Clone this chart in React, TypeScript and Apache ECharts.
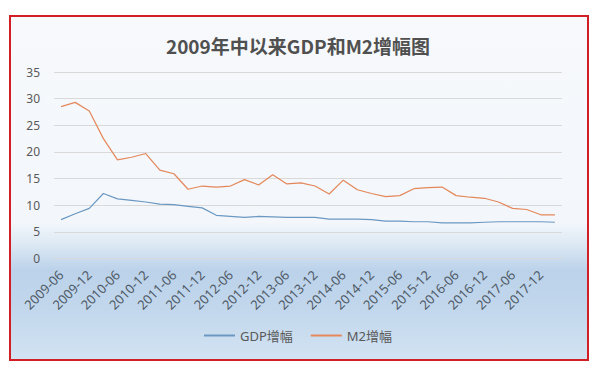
import React, { useEffect, useRef } from "react";
import * as echarts from "echarts";

const categories: string[] = [
  "2009-06", "2009-09", "2009-12",
  "2010-03", "2010-06", "2010-09", "2010-12",
  "2011-03", "2011-06", "2011-09", "2011-12",
  "2012-03", "2012-06", "2012-09", "2012-12",
  "2013-03", "2013-06", "2013-09", "2013-12",
  "2014-03", "2014-06", "2014-09", "2014-12",
  "2015-03", "2015-06", "2015-09", "2015-12",
  "2016-03", "2016-06", "2016-09", "2016-12",
  "2017-03", "2017-06", "2017-09", "2017-12",
  "2018-03",
];

const gdpGrowth: number[] = [
  7.3, 8.4, 9.4,
  12.2, 11.2, 10.9, 10.6,
  10.2, 10.1, 9.8, 9.5,
  8.1, 7.9, 7.7, 7.9,
  7.8, 7.7, 7.7, 7.7,
  7.4, 7.4, 7.4, 7.3,
  7.0, 7.0, 6.9, 6.9,
  6.7, 6.7, 6.7, 6.8,
  6.9, 6.9, 6.9, 6.9,
  6.8,
];

const m2Growth: number[] = [
  28.5, 29.3, 27.7,
  22.5, 18.5, 19.0, 19.7,
  16.6, 15.9, 13.0, 13.6,
  13.4, 13.6, 14.8, 13.8,
  15.7, 14.0, 14.2, 13.6,
  12.1, 14.7, 12.9, 12.2,
  11.6, 11.8, 13.1, 13.3,
  13.4, 11.8, 11.5, 11.3,
  10.6, 9.4, 9.2, 8.2,
  8.2,
];

const seriesNames: string[] = ["GDP增幅", "M2增幅"];
const titleText = "2009年中以来GDP和M2增幅图";

const FONT = "'Noto Sans', 'Noto Sans CJK SC', sans-serif";

export default function App() {
  const ref = useRef<HTMLDivElement>(null);

  useEffect(() => {
    if (!ref.current) return;
    const chart = echarts.init(ref.current, undefined, { renderer: "svg" });
    chart.setOption({
      animation: false,
      backgroundColor: "#ffffff",
      textStyle: { fontFamily: FONT },
      graphic: [
        {
          type: "rect",
          z: -10,
          silent: true,
          shape: { x: 10, y: 16, width: 578, height: 344 },
          style: {
            fill: new echarts.graphic.LinearGradient(0, 0, 0, 1, [
              { offset: 0, color: "#f7f9fc" },
              { offset: 0.6, color: "#f3f7fb" },
              { offset: 0.67, color: "#dae7f3" },
              { offset: 0.74, color: "#bbd2ea" },
              { offset: 0.85, color: "#c2d7ec" },
              { offset: 1, color: "#d2e3f2" },
            ]),
            stroke: "#d21f26",
            lineWidth: 2,
          },
        },
      ],
      title: {
        text: titleText,
        left: "center",
        top: 31,
        textStyle: {
          fontFamily: "'Noto Sans CJK SC', sans-serif",
          fontSize: 19,
          fontWeight: "bold",
          color: "#505050",
        },
      },
      legend: {
        data: seriesNames,
        bottom: 24,
        left: "center",
        itemWidth: 31,
        itemHeight: 2,
        itemGap: 18,
        icon: "rect",
        textStyle: { fontSize: 13, color: "#595959", fontFamily: FONT },
      },
      grid: {
        left: 54,
        right: 34,
        top: 72,
        bottom: 112.5,
        containLabel: false,
      },
      xAxis: {
        type: "category",
        data: categories,
        boundaryGap: true,
        axisLine: { show: false },
        axisTick: { show: false },
        axisLabel: {
          interval: 1,
          rotate: 45,
          fontSize: 13,
          color: "#4f5a66",
          margin: 14,
        },
      },
      yAxis: {
        type: "value",
        min: 0,
        max: 35,
        interval: 5,
        axisLine: { show: false },
        axisTick: { show: false },
        axisLabel: { fontSize: 12, color: "#595959", margin: 14 },
        splitLine: { lineStyle: { color: "#d9d9d9", width: 1 } },
      },
      series: [
        {
          name: seriesNames[0],
          type: "line",
          data: gdpGrowth,
          symbol: "none",
          lineStyle: { color: "#6b98c2", width: 1.2 },
          itemStyle: { color: "#6b98c2" },
        },
        {
          name: seriesNames[1],
          type: "line",
          data: m2Growth,
          symbol: "none",
          lineStyle: { color: "#e4875a", width: 1.2 },
          itemStyle: { color: "#e4875a" },
        },
      ],
    });
    return () => chart.dispose();
  }, []);

  return (
    <div
      ref={ref}
      style={{ position: "absolute", left: 0, top: 0, width: 596, height: 371 }}
    />
  );
}
